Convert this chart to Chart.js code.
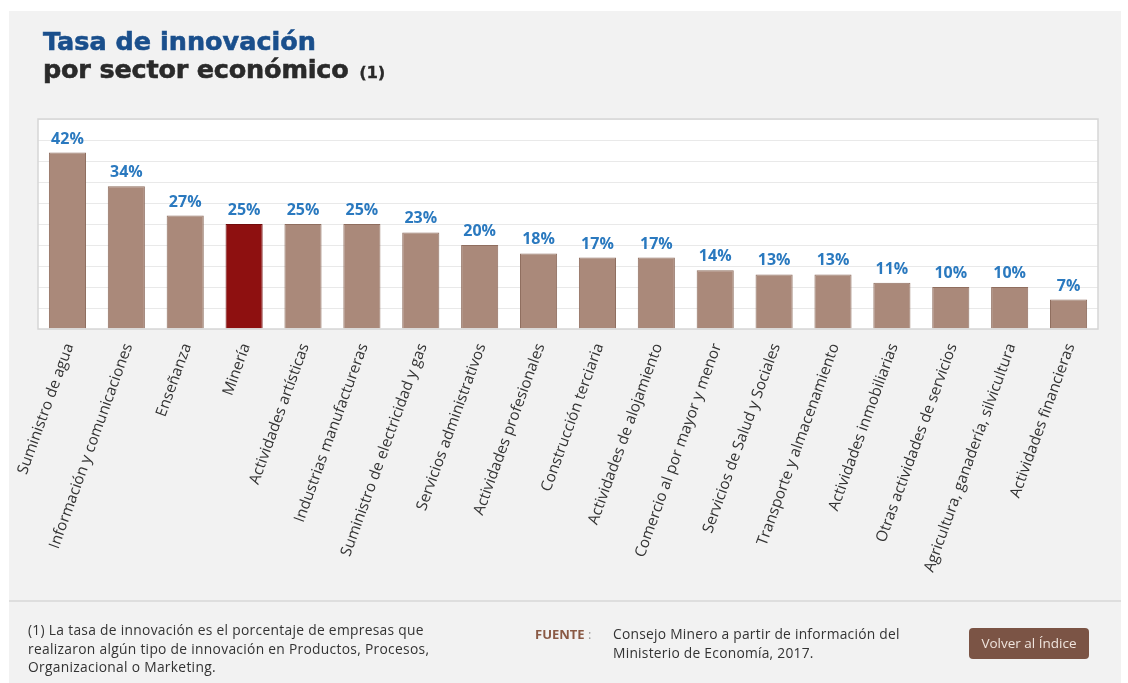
<!DOCTYPE html>
<html lang="es">
<head>
<meta charset="utf-8">
<script src="https://cdn.jsdelivr.net/npm/chart.js@4/dist/chart.umd.min.js"></script>
<style>
  html, body { margin:0; padding:0; background:#ffffff; width:1128px; height:683px; overflow:hidden; }
  #panel { position:absolute; left:9px; top:11px; width:1112px; height:672px; background:#f2f2f2; }
  #wrap { position:absolute; left:0; top:0; width:1128px; height:683px; }
  .t1 { position:absolute; left:43px; top:26px; font-family:"DejaVu Sans"; font-weight:bold; font-size:25.5px; color:#1a4f8c; white-space:nowrap; letter-spacing:0px; -webkit-text-stroke:0.6px #1a4f8c; }
  .t2 { position:absolute; left:43px; top:54px; font-family:"DejaVu Sans"; font-weight:bold; font-size:25.5px; color:#2a2a2a; white-space:nowrap; letter-spacing:-0.2px; -webkit-text-stroke:0.6px #2a2a2a; }
  .t2 small { font-size:16.5px; margin-left:2px; -webkit-text-stroke:0.3px #2a2a2a; }
  #rule { position:absolute; left:9px; top:600px; width:1112px; height:2px; background:#dedede; }
  .note { position:absolute; left:28px; top:621px; font-family:"Open Sans"; font-size:13.8px; letter-spacing:0.3px; line-height:18.5px; color:#333; white-space:nowrap; }
  .fuente { position:absolute; left:535px; top:625px; font-family:"Open Sans"; font-size:13px; color:#8a5a45; font-weight:bold; white-space:nowrap; }
  .fuente span { color:#999; font-weight:normal; }
  .src { position:absolute; left:613px; top:624px; font-family:"Open Sans"; font-size:13.8px; letter-spacing:0.25px; line-height:19px; color:#333; white-space:nowrap; }
  .btn { position:absolute; left:969px; top:628px; width:120px; height:31px; background:#7b5445; border-radius:4px; color:#efe4dd; font-family:"Open Sans"; font-size:13.5px; line-height:31px; text-align:center; }
</style>
</head>
<body>
<div id="panel"></div>
<div id="wrap"><canvas id="c" width="1128" height="683"></canvas></div>
<div class="t1">Tasa de innovación</div>
<div class="t2">por sector económico <small>(1)</small></div>
<div id="rule"></div>
<div class="note">(1) La tasa de innovación es el porcentaje de empresas que<br>realizaron algún tipo de innovación en Productos, Procesos,<br>Organizacional o Marketing.</div>
<div class="fuente">FUENTE <span>:</span></div>
<div class="src">Consejo Minero a partir de información del<br>Ministerio de Economía, 2017.</div>
<div class="btn">Volver al Índice</div>
<script>
const categories = [
  "Suministro de agua",
  "Información y comunicaciones",
  "Enseñanza",
  "Minería",
  "Actividades artísticas",
  "Industrias manufactureras",
  "Suministro de electricidad y gas",
  "Servicios administrativos",
  "Actividades profesionales",
  "Construcción terciaria",
  "Actividades de alojamiento",
  "Comercio al por mayor y menor",
  "Servicios de Salud y Sociales",
  "Transporte y almacenamiento",
  "Actividades inmobiliarias",
  "Otras actividades de servicios",
  "Agricultura, ganadería, silvicultura",
  "Actividades financieras"
];
const innovationRate = [42, 34, 27, 25, 25, 25, 23, 20, 18, 17, 17, 14, 13, 13, 11, 10, 10, 7];
const highlightCategory = "Minería";
const yTicks = { min: 0, max: 50, step: 5 };

const baseColor = "#aa897a";
const baseBorder = "#8f6e5f";
const hiColor = "#8e1010";
const hiBorder = "#720b0b";

const plotBg = {
  id: "plotBg",
  beforeDraw(chart) {
    const { ctx, chartArea: a } = chart;
    ctx.save();
    ctx.fillStyle = "#ffffff";
    ctx.fillRect(a.left, a.top, a.right - a.left, a.bottom - a.top);
    ctx.restore();
  },
  afterDraw(chart) {
    const { ctx, chartArea: a } = chart;
    ctx.save();
    ctx.strokeStyle = "#d6d6d6";
    ctx.lineWidth = 1.5;
    ctx.strokeRect(a.left, a.top, a.right - a.left, a.bottom - a.top);
    ctx.restore();
  }
};

const valueLabels = {
  id: "valueLabels",
  afterDatasetsDraw(chart) {
    const { ctx } = chart;
    const meta = chart.getDatasetMeta(0);
    ctx.save();
    ctx.font = "bold 16px 'Open Sans'";
    ctx.fillStyle = "#2a79bf";
    ctx.textAlign = "center";
    ctx.textBaseline = "alphabetic";
    meta.data.forEach((bar, i) => {
      ctx.fillText(innovationRate[i] + "%", bar.x, bar.y - 9);
    });
    ctx.restore();
  }
};

new Chart(document.getElementById("c"), {
  type: "bar",
  data: {
    labels: categories,
    datasets: [{
      data: innovationRate,
      backgroundColor: categories.map(c => c === highlightCategory ? hiColor : baseColor),
      borderColor: categories.map(c => c === highlightCategory ? hiBorder : baseBorder),
      borderWidth: 1,
      categoryPercentage: 1,
      barPercentage: 0.63
    }]
  },
  options: {
    responsive: false,
    animation: false,
    events: [],
    layout: { padding: { left: 38, right: 30, top: 119, bottom: 74 } },
    plugins: { legend: { display: false }, tooltip: { enabled: false } },
    scales: {
      x: {
        offset: true,
        grid: { display: false },
        border: { display: false },
        ticks: {
          autoSkip: false,
          minRotation: 70,
          maxRotation: 70,
          padding: 4,
          labelOffset: 2,
          color: "#333333",
          font: { family: "'Open Sans'", size: 15.3 }
        },
        afterFit(scale) {
          scale.paddingLeft = 0;
          scale.paddingRight = 0;
          scale.height = 280;
        }
      },
      y: {
        min: yTicks.min,
        max: yTicks.max,
        ticks: { display: false, stepSize: yTicks.step },
        grid: { color: "#e9e9e9", drawTicks: false, lineWidth: 1 },
        border: { display: false }
      }
    }
  },
  plugins: [plotBg, valueLabels]
});
</script>
</body>
</html>
